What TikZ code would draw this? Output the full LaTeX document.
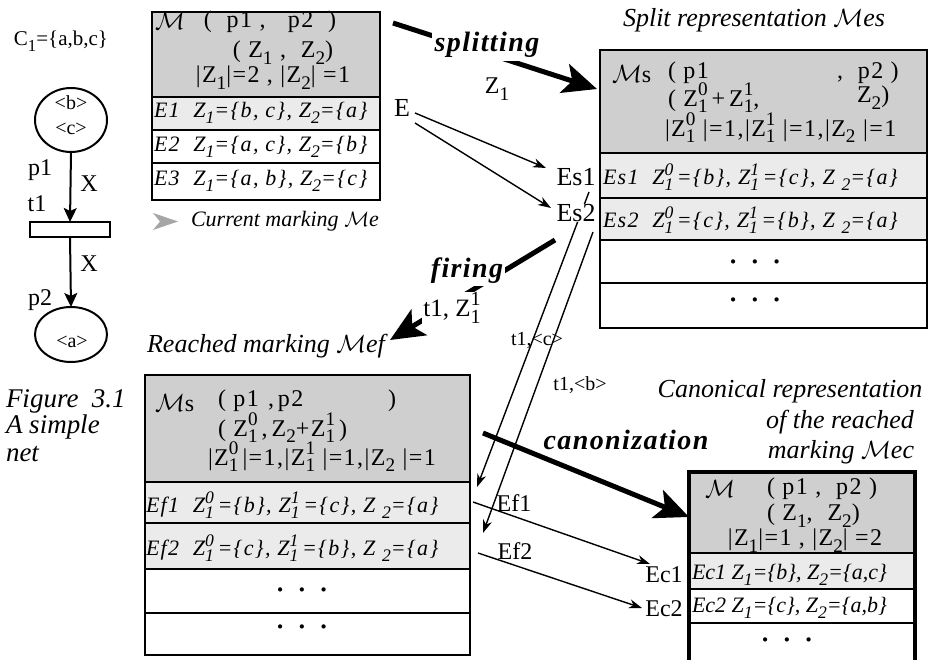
\documentclass[tikz,border=0pt]{standalone}
\usepackage{fontspec}
\setmainfont{Liberation Serif}
\newfontfamily\actrm{Liberation Serif}[LetterSpace=5]
\newfontfamily\sprm{Liberation Serif}[LetterSpace=6]
\usetikzlibrary{arrows.meta,shapes.geometric}
\newcommand\sbx[1]{\raisebox{-0.28em}{\scalebox{0.8}{#1}}}
\newcommand\spx[1]{\raisebox{0.42em}{\scalebox{0.8}{#1}}}
\newcommand\ZZ[2]{Z\rlap{\sbx{#1}}\spx{#2}}
\newcommand\Zs[1]{Z\sbx{#1}}
\newcommand\fs[1]{\fontsize{#1}{#1}\selectfont}
\begin{document}
\begin{tikzpicture}[x=1pt,y=-1pt,
  every node/.style={inner sep=0pt, outer sep=0pt},
  tbl/.style={draw, line width=1.8pt},
  hdr/.style={tbl, fill=black!19},
  shrow/.style={tbl, fill=black!8},
  plrow/.style={tbl, fill=white},
  hdrtxt/.style={font=\fs{24}\sprm},
  hdrw/.style={font=\fs{24}\sprm, anchor=west},
  rowtxt/.style={font=\fs{22}\sprm\itshape, anchor=west},
  ectxt/.style={font=\fs{22}\itshape, anchor=west},
  lbl/.style={font=\fs{24}},
  small/.style={font=\fs{20}},
  ttl/.style={font=\fs{26}\itshape},
  act/.style={font=\fs{28}\actrm\bfseries\itshape},
  dots/.style={font=\fs{26}\bfseries},
  thinarr/.style={line width=1.4pt, -{Stealth[length=13pt,width=9pt,inset=4pt]}},
  thickarr/.style={line width=5pt, -{Stealth[length=34pt,width=30pt,inset=8pt]}},
  pnarr/.style={line width=2pt, -{Stealth[length=14pt,width=13pt,inset=3pt]}},
  place/.style={draw, ellipse, line width=2pt, minimum width=72pt},
]
\useasboundingbox (0,0) rectangle (938,660);

% ---------- Petri net ----------
\node[font=\fs{21}] (C1) at (61,41) {C\sbx{1}=\{a,b,c\}};
\node[place, minimum height=64pt] (p1) at (71,120) {};
\node[small] (tb) at (71,103) {<b>};
\node[small] (tc) at (71,129) {<c>};
\node[draw, line width=2pt, minimum width=80pt, minimum height=15pt] (t1) at (70,229.5) {};
\node[place, minimum height=55pt] (p2) at (71,334.5) {};
\node[small] (ta) at (72,342) {<a>};
\draw[pnarr] (p1.south) -- (t1.north);
\draw[pnarr] (t1.south) -- (p2.north);
\node[lbl] (lp1) at (40,170) {p1};
\node[lbl] (lx1) at (89,184) {X};
\node[lbl] (lt1) at (37,204) {t1};
\node[lbl] (lx2) at (89,264) {X};
\node[lbl] (lp2) at (40,300) {p2};
\node[font=\fs{27}\itshape, anchor=west] (fig1) at (6,401) {Figure\ \ 3.1};
\node[font=\fs{27}\itshape, anchor=west] (fig2) at (6,427) {A simple};
\node[font=\fs{27}\itshape, anchor=west] (fig3) at (6,454) {net};

% ---------- Table 1 : current marking ----------
\draw[hdr] (152,12) rectangle (380,97);
\draw[shrow] (152,97) rectangle (380,130);
\draw[plrow] (152,130) rectangle (380,163);
\draw[plrow] (152,163) rectangle (380,200);
\node[hdrw] (m1) at (155,21) {$\mathcal{M}$};
\node[hdrtxt] (m1a) at (270,22) {(\ \ p1\ ,\ \ \ p2\ \ )};
\node[hdrtxt] (m1b) at (283,53) {(\ \Zs{1}\ ,\ \ \Zs{2})};
\node[hdrtxt] (m1c) at (273,78) {|\Zs{1}|=2\ ,\ |\Zs{2}|\ =1};
\node[rowtxt] (e1) at (154,113) {E1\ \ \Zs{1}=\{b, c\}, \Zs{2}=\{a\}};
\node[rowtxt] (e2) at (154,147) {E2\ \ \Zs{1}=\{a, c\}, \Zs{2}=\{b\}};
\node[rowtxt] (e3) at (154,181) {E3\ \ \Zs{1}=\{a, b\}, \Zs{2}=\{c\}};
\fill[black!35] (153,213) -- (178,221.5) -- (153,230) -- (160,221.5) -- cycle;
\node[font=\fs{22}\itshape] (cm) at (285,221) {Current marking $\mathcal{M}$e};

% ---------- Table 2 : split representation ----------
\node[ttl] (ts) at (754,20) {Split representation $\mathcal{M}$es};
\draw[hdr] (600,50) rectangle (927,153);
\draw[shrow] (600,153) rectangle (927,198);
\draw[shrow] (600,198) rectangle (927,240);
\draw[plrow] (600,240) rectangle (927,283);
\draw[plrow] (600,283) rectangle (927,328);
\node[hdrw] (m2) at (612,74) {$\mathcal{M}$s};
\node[hdrw] (m2a) at (668,73) {(\ p1};
\node[hdrw] (m2b) at (837,73) {,\ \ p2\ )};
\node[hdrw] (m2c) at (668,98) {(\ \ZZ{1}{0}\,+\,\ZZ{1}{1},};
\node[hdrw] (m2d) at (857,98) {\Zs{2})};
\node[hdrw] (m2e) at (665,128) {|\ZZ{1}{0}\ |=1,|\ZZ{1}{1}\ |=1,|\Zs{2}\ |=1};
\node[rowtxt] (es1r) at (603,177) {Es1\ \ \ZZ{1}{0}\,=\{b\}, \ZZ{1}{1}\,=\{c\}, Z\ \sbx{2}=\{a\}};
\node[rowtxt] (es2r) at (603,220) {Es2\ \ \ZZ{1}{0}\,=\{c\}, \ZZ{1}{1}\,=\{b\}, Z\ \sbx{2}=\{a\}};
\node[dots] (d21) at (755,265) {·\ \ ·\ \ ·};
\node[dots] (d22) at (755,303) {·\ \ ·\ \ ·};

% ---------- Table 3 : reached marking ----------
\node[ttl] (tr) at (266,346) {Reached marking $\mathcal{M}$ef};
\draw[hdr] (145,375) rectangle (470,482);
\draw[shrow] (145,482) rectangle (470,523);
\draw[shrow] (145,523) rectangle (470,569);
\draw[plrow] (145,569) rectangle (470,613);
\draw[plrow] (145,613) rectangle (470,655);
\node[hdrw] (m3) at (155,403) {$\mathcal{M}$s};
\node[hdrw] (m3a) at (218,401) {(\ p1};
\node[hdrw] (m3b) at (268,401) {,\,p2};
\node[hdrw] (m3c) at (388,401) {)};
\node[hdrw] (m3d) at (218,428) {(\ \ZZ{1}{0}\,,\,\Zs{2}+\ZZ{1}{1}\,)};
\node[hdrw] (m3e) at (208,457) {|\ZZ{1}{0}\,|=1,|\ZZ{1}{1}\ |=1,|\Zs{2}\ |=1};
\node[rowtxt] (ef1r) at (146,505) {Ef1\ \ \ZZ{1}{0}\,=\{b\}, \ZZ{1}{1}\,=\{c\}, Z\ \sbx{2}=\{a\}};
\node[rowtxt] (ef2r) at (146,548) {Ef2\ \ \ZZ{1}{0}\,=\{c\}, \ZZ{1}{1}\,=\{b\}, Z\ \sbx{2}=\{a\}};
\node[dots] (d31) at (302,593) {·\ \ ·\ \ ·};
\node[dots] (d32) at (302,630) {·\ \ ·\ \ ·};

% ---------- Table 4 : canonical representation ----------
\node[ttl] (tc1) at (790,391) {Canonical representation};
\node[ttl] (tc2) at (840,422) {of the reached};
\node[ttl] (tc3) at (841,452) {marking $\mathcal{M}$ec};
\draw[hdr] (689,472) rectangle (915,553);
\draw[shrow] (689,553) rectangle (915,589);
\draw[plrow] (689,589) rectangle (915,623);
\draw[plrow] (689,623) rectangle (915,670);
\draw[line width=4pt] (689,680) -- (689,472) -- (915,472) -- (915,680);
\node[hdrw] (m4) at (705,489) {$\mathcal{M}$};
\node[hdrw] (m4a) at (767,489) {(\ p1\ ,\ \ p2\ )};
\node[hdrw] (m4b) at (767,516) {(\ \Zs{1},\ \ \Zs{2})};
\node[hdrtxt] (m4c) at (805,541) {|\Zs{1}|=1\ ,\ |\Zs{2}|\ =2};
\node[ectxt] (ec1r) at (692,575) {Ec1 \Zs{1}=\{b\}, \Zs{2}=\{a,c\}};
\node[ectxt] (ec2r) at (692,608) {Ec2 \Zs{1}=\{c\}, \Zs{2}=\{a,b\}};
\node[dots] (d41) at (787,643) {·\ \ ·\ \ ·};

% ---------- connectors ----------
\coordinate (sS) at (393,23);
\coordinate (sE) at (597,89);
\draw[thickarr] (sS) -- (sE);
\node[act, fill=white, inner sep=3pt] (split) at (487,45) {splitting};
\node[lbl] (Z1) at (497,89) {Z\sbx{1}};

\node[font=\fs{26}] (E) at (402,108) {E};
\coordinate (eA) at (415,113);
\coordinate (eB) at (415,123);
\coordinate (es1in) at (546,168);
\coordinate (es2in) at (551,208);
\coordinate (aS) at (589,192);
\coordinate (aE) at (477,487);
\coordinate (bS) at (593,232);
\coordinate (bE) at (483,533);
\draw[thinarr] (aS) -- (aE);
\draw[thinarr] (bS) -- (bE);
\node[font=\fs{26}, fill=white, inner sep=1pt] (Es1) at (576,177) {Es1};
\node[font=\fs{26}, fill=white, inner sep=0.5pt] (Es2) at (576,213) {Es2};
\draw[thinarr] (eA) -- (es1in);
\draw[thinarr] (eB) -- (es2in);

\coordinate (fS) at (555,240);
\coordinate (fE) at (390,340);
\draw[thickarr] (fS) -- (fE);
\node[act, fill=white, inner sep=2pt] (firing) at (467,271) {firing};
\node[font=\fs{25}, fill=white, inner sep=1pt] (t1z) at (452,308) {t1, \ZZ{1}{1}};
\node[small] (t1c) at (537,340) {t1,<c>};
\node[small] (t1b) at (580,385) {t1,<b>};

\coordinate (cS) at (483,433);
\coordinate (cE) at (689,517);
\draw[thickarr] (cS) -- (cE);
\node[act] (canon) at (626,440) {canonization};

\node[lbl] (Ef1) at (514,503) {Ef1};
\node[lbl] (Ef2) at (515,551) {Ef2};
\node[lbl] (Ec1) at (664,575) {Ec1};
\node[lbl] (Ec2) at (664,609) {Ec2};
\coordinate (f1S) at (473,502);
\coordinate (f2S) at (478,553);
\coordinate (ec1in) at (650,564);
\coordinate (ec2in) at (642,608);
\draw[thinarr] (f1S) -- (ec1in);
\draw[thinarr] (f2S) -- (ec2in);
\end{tikzpicture}
\end{document}
